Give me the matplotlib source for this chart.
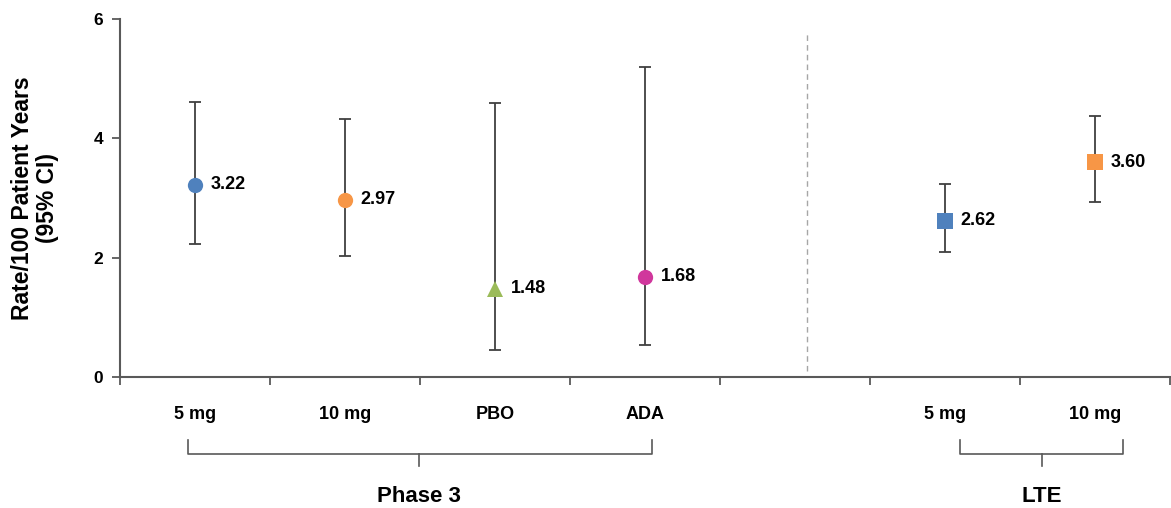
import matplotlib.pyplot as plt
import matplotlib.transforms as mtransforms

plt.rcParams['font.family'] = ['Liberation Sans', 'DejaVu Sans']

# Incidence rates with 95% CI, Phase 3 arms then LTE doses
labels = ['5 mg', '10 mg', 'PBO', 'ADA', '', '5 mg', '10 mg']
positions = [0, 1, 2, 3, 5, 6]
rates = [3.22, 2.97, 1.48, 1.68, 2.62, 3.60]
ci_low = [2.22, 2.02, 0.45, 0.53, 2.10, 2.94]
ci_high = [4.62, 4.32, 4.60, 5.20, 3.24, 4.37]
colors = ['#4F81BD', '#F79646', '#9BBB59', '#D0379C', '#4F81BD', '#F79646']
markers = ['o', 'o', '^', 'o', 's', 's']

fig = plt.figure(figsize=(11.71, 5.08), dpi=100)
ax = fig.add_axes([0.1025, 0.2585, 0.897, 0.7035])

for x, r, lo, hi, c, m in zip(positions, rates, ci_low, ci_high, colors, markers):
    ax.errorbar(x, r, yerr=[[r - lo], [hi - r]], fmt='none', ecolor='#404040',
                elinewidth=1.3, capsize=4, capthick=1.3, zorder=2)
    ms = 11 if m == 'o' else 11.5
    ax.plot(x, r, marker=m, color=c, markersize=ms, markeredgewidth=0, zorder=3)
    ax.annotate(f'{r:.2f}', (x, r), xytext=(11, 0), textcoords='offset points',
                ha='left', va='center', fontsize=13, fontweight='bold')

# separator between the Phase 3 and LTE groups
ax.plot([4.08, 4.08], [0.1, 5.78], color='#A6A6A6', lw=1, ls=(0, (4, 3)), zorder=1)

ax.set_xlim(-0.5, 6.5)
ax.set_ylim(0, 6)
ax.set_yticks([0, 2, 4, 6])
ax.set_xticks(range(len(labels)))
ax.set_xticklabels(labels, fontsize=13, fontweight='bold')
ax.set_xticks([i - 0.5 for i in range(len(labels) + 1)], minor=True)
ax.tick_params(axis='x', which='major', length=0, pad=21)
ax.tick_params(axis='x', which='minor', length=6, width=1.3, color='#595959', direction='out')
ax.tick_params(axis='y', length=6, width=1.3, color='#595959', labelsize=12.5, pad=6)
for t in ax.get_yticklabels():
    t.set_fontweight('bold')

for side in ['top', 'right']:
    ax.spines[side].set_visible(False)
for side in ['left', 'bottom']:
    ax.spines[side].set_color('#595959')
    ax.spines[side].set_linewidth(1.5)

ax.set_ylabel('Rate/100 Patient Years\n(95% CI)', fontsize=16.5, fontweight='bold',
              linespacing=1.1, labelpad=25)

# group brackets below the category labels
trans = mtransforms.blended_transform_factory(ax.transData, ax.transAxes)
for left, right, mid, name in [(-0.05, 3.047, 1.49, 'Phase 3'), (5.1, 6.187, 5.644, 'LTE')]:
    ax.plot([left, left, right, right], [-0.177, -0.216, -0.216, -0.177],
            color='#595959', lw=1.2, transform=trans, clip_on=False)
    ax.plot([mid, mid], [-0.216, -0.25], color='#595959', lw=1.2,
            transform=trans, clip_on=False)
    ax.text(mid, -0.334, name, transform=trans, ha='center', va='center',
            fontsize=16, fontweight='bold')

fig.savefig('out.png', dpi=100)
